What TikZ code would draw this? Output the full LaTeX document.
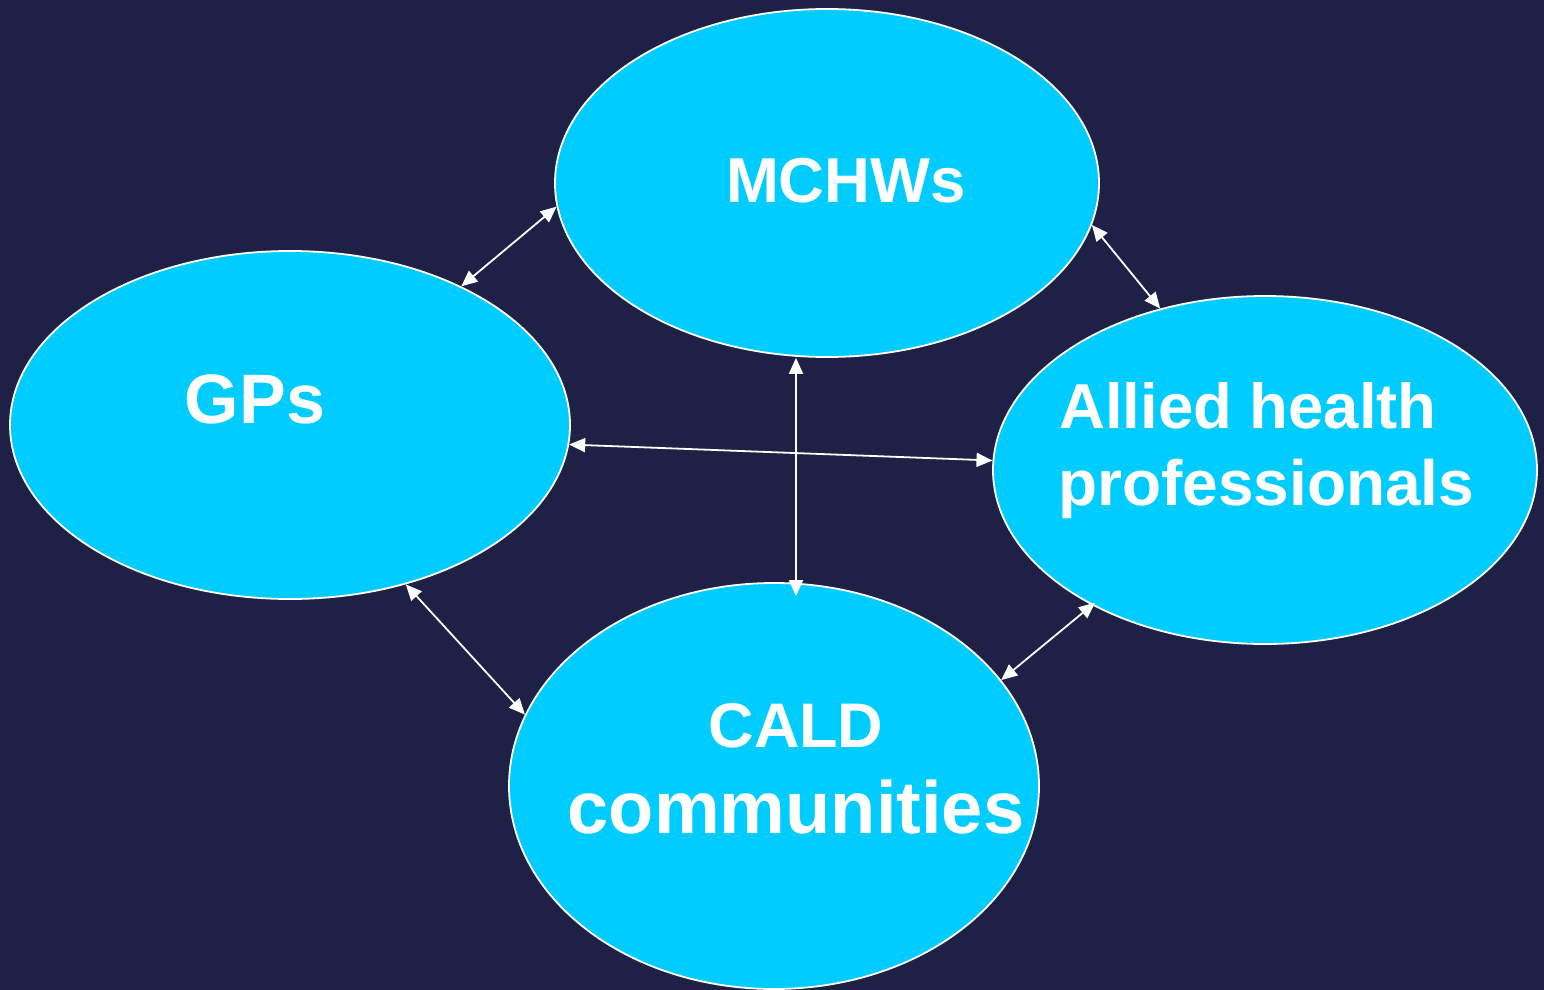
\documentclass[tikz,border=0pt]{standalone}
\usepackage{fontspec}
\setmainfont{Liberation Sans}
\usetikzlibrary{shapes.geometric,arrows.meta}
\definecolor{bgnavy}{HTML}{1F2046}
\definecolor{cyanfill}{HTML}{00CCFF}
\tikzset{
  bubble/.style={ellipse, draw=white, line width=1.8pt, fill=cyanfill, inner sep=0pt},
  lbl/.style={text=white, inner sep=0pt, font=\bfseries},
  link/.style={draw=white, line width=1.8pt, {Triangle[length=16pt,width=14pt]}-{Triangle[length=16pt,width=14pt]}},
}
\begin{document}
\begin{tikzpicture}[x=1pt,y=-1pt]
\useasboundingbox (0,0) rectangle (1544,990);
\clip (0,0) rectangle (1544,990);
\fill[bgnavy] (0,0) rectangle (1544,990);
% ellipses
\node[bubble, minimum width=544pt, minimum height=348pt] (mchw) at (827,183) {};
\node[bubble, minimum width=560pt, minimum height=348pt] (gp) at (290,425) {};
\node[bubble, minimum width=544pt, minimum height=348pt] (ahp) at (1265,470) {};
\node[bubble, minimum width=530pt, minimum height=406pt] (cald) at (774,786) {};
% labels
\node[lbl, anchor=base, font=\bfseries\fontsize{63.5}{75}\selectfont] (tm) at (846,202) {MCHWs};
\node[lbl, anchor=base, font=\bfseries\fontsize{70}{84}\selectfont] (tg) at (255,423) {GPs};
\node[lbl, anchor=base west, font=\bfseries\fontsize{63.5}{75}\selectfont] (ta1) at (1059,428) {Allied health};
\node[lbl, anchor=base west, font=\bfseries\fontsize{64}{75}\selectfont] (ta2) at (1058,505) {professionals};
\node[lbl, anchor=base, font=\bfseries\fontsize{63}{75}\selectfont] (tc1) at (796,747) {CALD};
\node[lbl, anchor=base, font=\bfseries\fontsize{74}{88}\selectfont] (tc2) at (796,833) {communities};
% connectors
\coordinate (vx) at (796,0);
\draw[link] (gp.39.6) -- (mchw.185);
\draw[link] (mchw.-9) -- (ahp.123.8);
\draw[link, shorten >=-14pt] (vx |- mchw.south) -- (vx |- cald.north);
\draw[link] (gp.-4.7) -- (ahp.178.5);
\draw[link] (gp.-54.5) -- (cald.164.5);
\draw[link, shorten <=-4pt] (ahp.218) -- (cald.25.8);
\end{tikzpicture}
\end{document}
